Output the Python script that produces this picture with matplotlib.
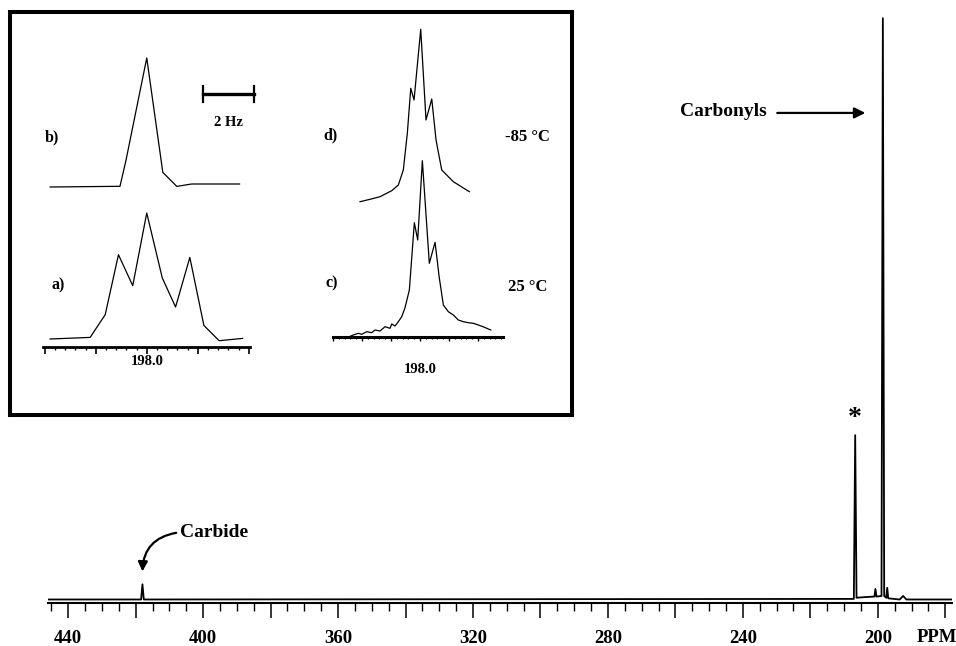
import matplotlib
matplotlib.use("Agg")
import matplotlib.pyplot as plt
from matplotlib.ticker import MultipleLocator, FuncFormatter

plt.rcParams['font.family'] = ['Liberation Serif', 'DejaVu Serif']
plt.rcParams['font.weight'] = 'bold'

# main 13C spectrum (ppm, intensity as % of carbonyl peak)
spec_ppm = [446, 418.4, 418.0, 417.6, 207.1, 206.7, 206.3, 204.0, 201.0, 200.7, 200.4,
            198.9, 198.5, 198.1, 197.5, 197.2, 196.9, 193.5, 192.5, 191.5, 178]
spec_int = [0.6, 0.6, 3.2, 0.6, 0.7, 28.7, 0.9, 1.0, 1.1, 2.4, 1.1,
            1.2, 100.0, 1.2, 0.9, 2.6, 0.8, 0.6, 1.2, 0.6, 0.6]

# inset, left panel: offset from 198.0 ppm in Hz, height
hz_a = [-3.79, -2.22, -1.63, -1.11, -0.55, 0.0, 0.61, 1.13, 1.69, 2.24, 2.84, 3.76]
int_a = [0, 1.6, 24.3, 84.3, 53.3, 126, 61, 32, 81.6, 13.6, -1.7, 0.6]
hz_b = [-3.79, -1.05, -0.81, 0.0, 0.63, 1.18, 1.76, 3.64]
int_b = [0, 0.7, 27.3, 129, 14.6, 0.6, 3, 3]

# inset, right panel
hz_c = [-12.36, -11.5, -10.64, -10.05, -9.19, -8.33, -7.76, -6.9, -6.03, -5.17, -4.88,
        -4.31, -3.74, -3.16, -2.6, -1.84, -0.98, -0.4, 0.4, 1.6, 2.59, 3.3, 4.02, 4.88,
        5.74, 6.6, 7.47, 8.33, 9.19, 10.05, 10.86, 12.19]
int_c = [0, 2, 3.7, 2.7, 5.3, 4.3, 7, 6, 10.3, 8.7, 13,
         11, 15.3, 20.3, 29, 47, 114.3, 97, 176.3, 73.7, 94.7, 60, 32, 25.3,
         22, 17, 15.3, 14.3, 13.7, 12, 10.3, 7]
hz_d = [-10.34, -8.62, -6.9, -4.88, -3.74, -2.88, -2.19, -1.6, -1.03, 0.12, 1.03,
        2.02, 2.76, 3.74, 5.74, 8.5]
int_d = [0.3, 2.7, 5.3, 11.3, 17, 32, 68.7, 113.7, 102, 172.7, 82,
         103, 62, 32, 20.3, 10.3]

W, H = 956, 646
fig = plt.figure(figsize=(W / 100, H / 100), dpi=100)


def rect(x0, y0, x1, y1):
    return [x0 / W, 1 - y1 / H, (x1 - x0) / W, (y1 - y0) / H]


def fx(x):
    return x / W


def fy(y):
    return 1 - y / H


# ---- main spectrum ----
ax = fig.add_axes(rect(48, 10, 952, 603))
ax.patch.set_alpha(0)
ax.plot(spec_ppm, spec_int, color='black', lw=1.3)
ax.set_xlim(446, 178)
ax.set_ylim(0, 101.4)
for s in ['top', 'left', 'right']:
    ax.spines[s].set_visible(False)
ax.spines['bottom'].set_linewidth(1.5)
ax.set_yticks([])
ax.xaxis.set_major_locator(MultipleLocator(20))
ax.xaxis.set_minor_locator(MultipleLocator(5))
ax.xaxis.set_major_formatter(FuncFormatter(lambda v, p: f"{v:.0f}" if v % 40 == 0 else ""))
ax.tick_params(axis='x', which='major', length=10.5, width=1.1, pad=9, labelsize=13.5)
ax.tick_params(axis='x', which='minor', length=5.5, width=1.0)
fig.text(fx(937), fy(638), 'PPM', ha='center', va='center', fontsize=13.5)

ax.text(206.7, 31.5, '*', ha='center', va='center', fontsize=20)
ax.text(232.8, 84.1, 'Carbonyls', ha='right', va='center', fontsize=14)
ax.annotate('', xy=(203.7, 83.8), xytext=(229.8, 83.8),
            arrowprops=dict(arrowstyle='-|>', lw=1.6, color='black', mutation_scale=16,
                            shrinkA=0, shrinkB=0))
ax.text(406.8, 12.0, 'Carbide', ha='left', va='center', fontsize=14)
ax.annotate('', xy=(418.0, 5.4), xytext=(408.0, 12.0),
            arrowprops=dict(arrowstyle='-|>', lw=1.6, color='black', mutation_scale=14,
                            shrinkA=0, shrinkB=0, connectionstyle='arc3,rad=0.4'))

# ---- inset box ----
box = fig.add_axes(rect(10, 12, 572, 415))
box.set_xticks([])
box.set_yticks([])
for s in box.spines.values():
    s.set_linewidth(2.9)
box.set_zorder(2)

fmt198 = FuncFormatter(lambda v, p: "198.0" if abs(v) < 1e-6 else "")

# left panel: a) and b)
axl = fig.add_axes(rect(43, 40, 250, 347))
axl.patch.set_alpha(0)
axl.set_zorder(3)
axl.plot(hz_a, [v + 8 for v in int_a], color='black', lw=0.9)
axl.plot(hz_b, [v + 160 for v in int_b], color='black', lw=0.9)
axl.set_xlim(-4.07, 4.05)
axl.set_ylim(0, 307)
for s in ['top', 'left', 'right']:
    axl.spines[s].set_visible(False)
axl.spines['bottom'].set_linewidth(2.0)
axl.set_yticks([])
axl.xaxis.set_major_locator(MultipleLocator(2))
axl.xaxis.set_minor_locator(MultipleLocator(0.4))
axl.xaxis.set_major_formatter(fmt198)
axl.tick_params(axis='x', which='major', length=5, width=1.2, pad=1, labelsize=10.5)
axl.tick_params(axis='x', which='minor', length=2.5, width=1.0)
# 2 Hz scale bar
axl.plot([2.21, 4.21], [253, 253], color='black', lw=2.4, clip_on=False)
axl.plot([2.21, 2.21], [245, 261], color='black', lw=1.6, clip_on=False)
axl.plot([4.21, 4.21], [245, 261], color='black', lw=1.6, clip_on=False)
axl.text(3.21, 225, '2 Hz', ha='center', va='center', fontsize=10.5)

# right panel: c) and d)
axr = fig.add_axes(rect(333, 20, 503, 337))
axr.patch.set_alpha(0)
axr.set_zorder(3)
axr.plot(hz_c, int_c, color='black', lw=0.9)
axr.plot(hz_d, [v + 135 for v in int_d], color='black', lw=0.9)
axr.set_xlim(-15.0, 14.3)
axr.set_ylim(0, 317)
for s in ['top', 'left', 'right']:
    axr.spines[s].set_visible(False)
axr.spines['bottom'].set_linewidth(2.2)
axr.set_yticks([])
axr.xaxis.set_major_locator(MultipleLocator(5))
axr.xaxis.set_minor_locator(MultipleLocator(1))
axr.xaxis.set_major_formatter(fmt198)
axr.tick_params(axis='x', which='major', length=3, width=1.0, pad=16, labelsize=10.5)
axr.tick_params(axis='x', which='minor', length=1.5, width=0.8)

for label, x, y in [('b)', 45, 137), ('a)', 52, 285), ('d)', 323, 135), ('c)', 325, 283)]:
    fig.text(fx(x), fy(y), label, ha='left', va='center', fontsize=11.5, zorder=5)
fig.text(fx(527), fy(137), '-85 °C', ha='center', va='center', fontsize=12, zorder=5)
fig.text(fx(528), fy(287), '25 °C', ha='center', va='center', fontsize=12, zorder=5)

fig.savefig('out.png', dpi=100)
